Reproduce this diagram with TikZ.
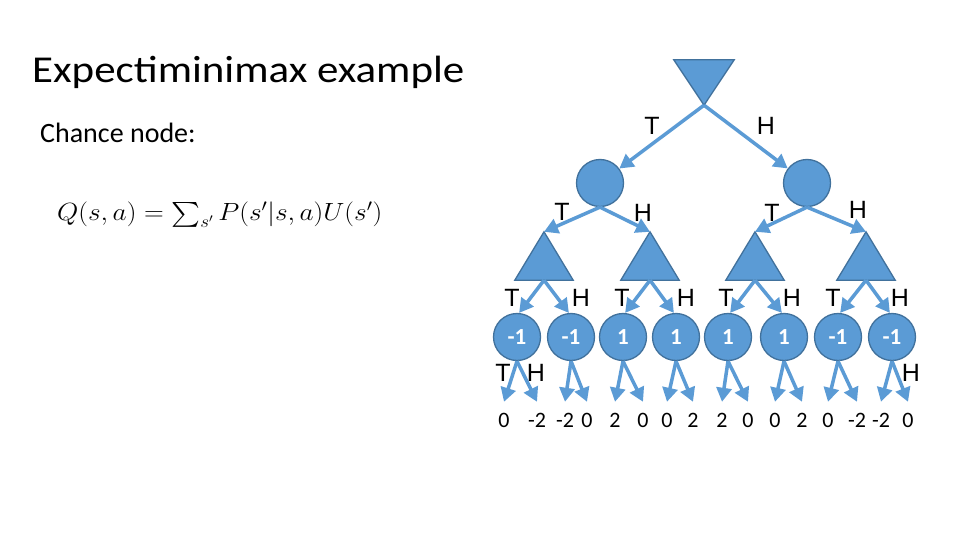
\documentclass[tikz,border=0pt]{standalone}
\usepackage{amsmath}
\usepackage{exscale}
\usepackage{fontspec}
\usepackage{graphicx}
\setmainfont{Carlito}
\newfontfamily\labfont{Liberation Sans}
\usetikzlibrary{arrows.meta}
\definecolor{nodefill}{HTML}{5B9BD5}
\definecolor{nodeline}{HTML}{41719C}
\begin{document}
\begin{tikzpicture}[x=1pt,y=-1pt,
  chance/.style={circle,draw=nodeline,fill=nodefill,line width=1.3pt,minimum size=47pt,inner sep=0pt},
  leaf/.style={chance,text=white,font=\fontsize{23}{26}\selectfont\bfseries},
  tribox/.style={rectangle,minimum width=58pt,minimum height=48pt,inner sep=0pt},
  tri/.style={draw=nodeline,fill=nodefill,line width=1.3pt,line join=miter},
  arr/.style={draw=nodefill,line width=3.5pt,-{Triangle[length=14pt,width=15pt]}},
  lab/.style={font=\labfont\fontsize{25}{28}\selectfont,inner sep=0pt},
  num/.style={font=\fontsize{22}{26}\selectfont,inner sep=0pt,minimum height=36pt}
]
\fill[white] (0,0) rectangle (960,540);
\useasboundingbox (0,0) rectangle (960,540);

% texts
\node[anchor=west,inner sep=0pt] (title) at (32,72) {\fontsize{38}{42}\selectfont\scalebox{1.13}[1]{Expectiminimax example}};
\node[anchor=west,inner sep=0pt] (chance) at (40,133) {\fontsize{28}{32}\selectfont Chance node:};
\node[anchor=west,inner sep=0pt] (formula) at (57,215) {\scalebox{1.1}[1]{\fontsize{25}{30}\selectfont $Q(s,a)=\textstyle\sum_{s'}P(s'|s,a)U(s')$}};

% root (min) node
\node[tribox,minimum width=60pt,minimum height=45pt] (root) at (704,82.5) {};
\draw[tri] (root.north west) -- (root.north east) -- (root.south) -- cycle;

% chance nodes
\node[chance] (c1) at (600,183) {};
\node[chance] (c2) at (807,183) {};

% max nodes
\foreach \x [count=\i] in {544,650,755,866} {
  \node[tribox] (m\i) at (\x,256) {};
  \draw[tri] (m\i.north) -- (m\i.south east) -- (m\i.south west) -- cycle;
}

% leaf chance nodes
\foreach \x/\v [count=\i] in {517/-1,571/-1,623/1,676/1,728/1,784/1,838/-1,892/-1}
  \node[leaf] (l\i) at (\x,337) {\v};

% terminal values
\foreach \x/\v [count=\i] in {504/0,537/-2,565/-2,587/0,615/2,643/0,667/0,693/2,722/2,748/0,775/0,802/2,828/0,857/-2,881/-2,908/0}
  \node[num] (n\i) at (\x,420) {\v};

% connectors
\draw[arr] (root.south) -- (c1);
\draw[arr] (root.south) -- (c2);
\draw[arr] (c1.south) -- (m1.north);
\draw[arr] (c1.south) -- (m2.north);
\draw[arr] (c2.south) -- (m3.north);
\draw[arr] (c2.south) -- (m4.north);
\foreach \j in {1,...,4} {
  \pgfmathtruncatemacro\a{2*\j-1}
  \pgfmathtruncatemacro\b{2*\j}
  \draw[arr] (m\j.south) -- (l\a.85);
  \draw[arr] (m\j.south) -- (l\b.95);
}
\foreach \i in {1,...,8} {
  \pgfmathtruncatemacro\a{2*\i-1}
  \pgfmathtruncatemacro\b{2*\i}
  \draw[arr] (l\i.south) -- (n\a.north);
  \draw[arr] (l\i.south) -- (n\b.north);
}

% edge labels
\node[lab] (rt) at (652,126) {T};
\node[lab] (rh) at (766,126) {H};
\node[lab] (c1t) at (562,212) {T};
\node[lab] (c1h) at (643,213) {H};
\node[lab] (c2t) at (772,213) {T};
\node[lab] (c2h) at (858,210) {H};
\foreach \xt/\xh [count=\i] in {512/581,622/686,726/792,833/900} {
  \node[lab] (mt\i) at (\xt,298) {T};
  \node[lab] (mh\i) at (\xh,298) {H};
}
\node[lab] (lt) at (503,373) {T};
\node[lab] (lh) at (536,373) {H};
\node[lab] (lh8) at (911,373) {H};
\end{tikzpicture}
\end{document}
